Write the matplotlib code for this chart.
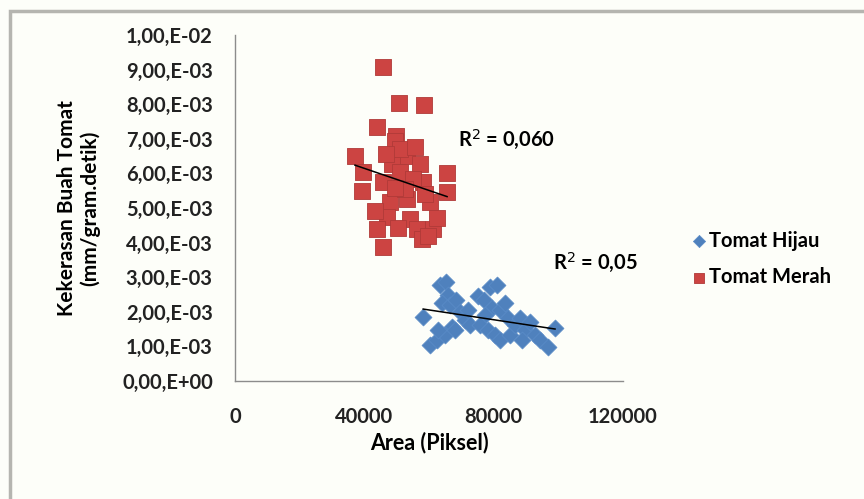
import numpy as np
import matplotlib.pyplot as plt
from matplotlib.patches import Rectangle

plt.rcParams['font.family'] = ['Lato', 'DejaVu Sans']

# Tomat Hijau (area in piksel, kekerasan)
hijau_x = [58200, 60300, 62500, 63400, 65300, 65900, 64000, 66500, 68400, 69600,
           67100, 65000, 62800, 68000, 71100, 72700, 75200, 77000, 78900, 81000,
           79500, 82000, 83500, 84400, 77300, 75800, 78300, 80400, 81900, 85100,
           86600, 88200, 89700, 91200, 92800, 88800, 94300, 96800, 99000, 72000]
hijau_y = [1.85e-3, 1.04e-3, 1.19e-3, 2.78e-3, 2.87e-3, 2.49e-3, 2.26e-3, 2.20e-3, 2.35e-3, 2.00e-3,
           1.55e-3, 1.33e-3, 1.48e-3, 1.48e-3, 1.77e-3, 1.62e-3, 2.46e-3, 2.35e-3, 2.72e-3, 2.78e-3,
           2.12e-3, 2.06e-3, 2.26e-3, 1.83e-3, 1.91e-3, 1.62e-3, 1.48e-3, 1.33e-3, 1.19e-3, 1.33e-3,
           1.62e-3, 1.83e-3, 1.48e-3, 1.71e-3, 1.33e-3, 1.19e-3, 1.19e-3, 0.99e-3, 1.54e-3, 2.06e-3]

# Tomat Merah
merah_x = [45800, 50700, 58500, 43900, 49800, 37100, 65600, 39600, 39300, 49500,
           53200, 48600, 57200, 65600, 45800, 58200, 47900, 53200, 60300, 47000,
           54100, 61200, 43900, 56300, 45800, 57800, 51000, 55100, 51000, 46700,
           55700, 58800, 52600, 49500, 62500, 50400, 59700, 43300]
merah_y = [9.07e-3, 8.03e-3, 7.97e-3, 7.33e-3, 7.07e-3, 6.49e-3, 6.00e-3, 6.03e-3, 5.48e-3, 6.93e-3,
           6.49e-3, 6.26e-3, 6.26e-3, 5.45e-3, 5.74e-3, 5.74e-3, 5.16e-3, 5.25e-3, 5.16e-3, 4.75e-3,
           4.67e-3, 4.40e-3, 4.38e-3, 4.38e-3, 3.88e-3, 4.09e-3, 6.03e-3, 5.83e-3, 6.70e-3, 6.55e-3,
           6.75e-3, 5.39e-3, 5.54e-3, 5.59e-3, 4.70e-3, 4.43e-3, 4.20e-3, 4.90e-3]

y_ticks = np.arange(0, 0.0101, 0.001)
y_labels = ['0,00,E+00', '1,00,E-03', '2,00,E-03', '3,00,E-03', '4,00,E-03', '5,00,E-03',
            '6,00,E-03', '7,00,E-03', '8,00,E-03', '9,00,E-03', '1,00,E-02']
x_ticks = [0, 40000, 80000, 120000]

fig = plt.figure(figsize=(8.64, 4.99), dpi=100, facecolor='#fdfef9')
fig.patches.append(Rectangle((10/864, -0.1), 1.2, 1.1 - 11/499, transform=fig.transFigure,
                             fill=False, edgecolor='#b5b5b0', linewidth=2.5))
ax = fig.add_axes([0.272, 0.2365, 0.449, 0.6935])
ax.set_facecolor('none')

ax.scatter(hijau_x, hijau_y, marker='D', s=75, color='#4f81bd', edgecolors='#5b8cc8',
           linewidths=0.5, label='Tomat Hijau', zorder=2)
ax.scatter(merah_x, merah_y, marker='s', s=120, color='#cc4442', edgecolors='#b03a38',
           linewidths=0.6, label='Tomat Merah', zorder=2)

# garis trend linear
for xs, ys in [(hijau_x, hijau_y), (merah_x, merah_y)]:
    xs = np.array(xs)
    k, b = np.polyfit(xs, ys, 1)
    xx = np.array([xs.min(), xs.max()])
    ax.plot(xx, k * xx + b, color='black', linewidth=1.1, zorder=3)

ax.text(69000, 0.0070, 'R$^2$ = 0,060', fontsize=14.5, fontweight='bold', ha='left', va='center')
ax.text(98400, 0.00345, 'R$^2$ = 0,05', fontsize=14.5, fontweight='bold', ha='left', va='center')

ax.set_xlim(0, 120000)
ax.set_ylim(0, 0.01)
ax.set_xticks(x_ticks)
ax.set_xticklabels([str(v) for v in x_ticks])
ax.set_yticks(y_ticks)
ax.set_yticklabels(y_labels)
ax.tick_params(length=0, labelsize=14.5, colors='#222222')
ax.tick_params(axis='x', pad=19)
ax.tick_params(axis='y', pad=16)
for lab in ax.get_xticklabels() + ax.get_yticklabels():
    lab.set_fontweight('bold')
for s in ['top', 'right']:
    ax.spines[s].set_visible(False)
for s in ['left', 'bottom']:
    ax.spines[s].set_color('#8c8c8c')
    ax.spines[s].set_linewidth(1.0)

ax.set_xlabel('Area (Piksel)', fontsize=15.5, fontweight='bold', labelpad=3)
ax.set_ylabel('Kekerasan Buah Tomat\n(mm/gram.detik)', fontsize=15, fontweight='bold',
              labelpad=16, linespacing=1.15)

leg = ax.legend(loc='center left', bbox_to_anchor=(1.124, 0.353), frameon=False,
                handletextpad=0.0, handlelength=1.0, labelspacing=0.8, markerscale=0.72,
                prop={'weight': 'bold', 'size': 14.5})

fig.savefig('out.png', dpi=100, facecolor=fig.get_facecolor())
